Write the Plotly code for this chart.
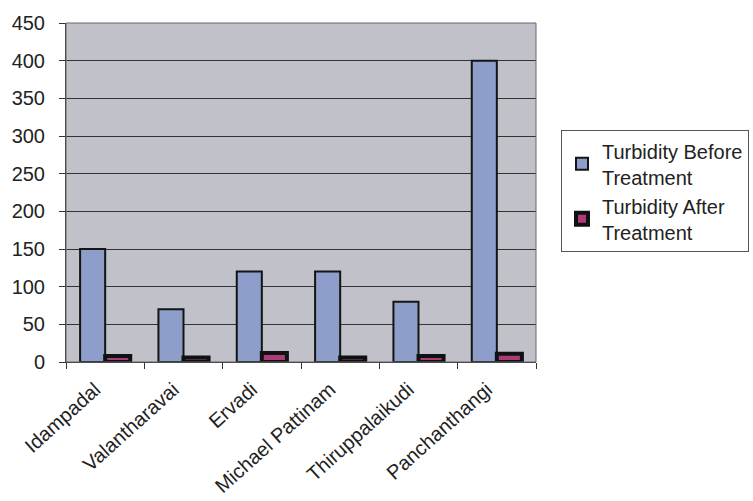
import plotly.graph_objects as go

sites = ["Idampadal", "Valantharavai", "Ervadi", "Michael Pattinam",
         "Thiruppalaikudi", "Panchanthangi"]
turbidity_before = [150, 70, 120, 120, 80, 400]
turbidity_after = [8, 6, 12, 6, 8, 11]
y_ticks = [0, 50, 100, 150, 200, 250, 300, 350, 400, 450]

fig = go.Figure()
fig.add_trace(go.Bar(
    x=sites, y=turbidity_before, name="Turbidity Before<br>Treatment",
    marker=dict(color="#8e9ecb", line=dict(color="#141414", width=2)),
))
fig.add_trace(go.Bar(
    x=sites, y=turbidity_after, name="Turbidity After<br>Treatment",
    marker=dict(color="#b03a78", line=dict(color="#0e1212", width=4)),
))

fig.update_layout(
    width=753, height=501,
    margin=dict(l=66, r=217, t=23, b=139),
    paper_bgcolor="white",
    plot_bgcolor="#c1c2c9",
    barmode="group",
    bargap=0.36,
    bargroupgap=0.0,
    font=dict(family="Liberation Sans, Arial, sans-serif", color="#222222", size=18),
    legend=dict(
        xref="container", yref="container",
        x=0.745, y=0.74, xanchor="left", yanchor="top",
        bordercolor="#555555", borderwidth=1, bgcolor="white",
        font=dict(size=20), tracegroupgap=2, itemwidth=30,
    ),
    showlegend=True,
)
fig.update_xaxes(
    type="category", tickson="boundaries", ticks="outside", ticklen=6,
    tickcolor="#333333", showline=True, linecolor="#333333", linewidth=1,
    tickangle=-42, tickfont=dict(size=20), showgrid=False, automargin=False,
    ticklabelshift=-10, ticklabelstandoff=7,
)
fig.update_yaxes(
    range=[0, 450], tickvals=y_ticks, ticks="outside", ticklen=6,
    tickcolor="#333333", showline=True, linecolor="#333333", linewidth=1,
    gridcolor="#333333", gridwidth=1, tickfont=dict(size=20), zeroline=False,
    automargin=False, ticklabelstandoff=10,
)
fig.add_shape(type="rect", xref="paper", yref="paper", x0=0, y0=0, x1=1, y1=1,
              line=dict(color="#666666", width=1))

fig.write_html("out.html")
